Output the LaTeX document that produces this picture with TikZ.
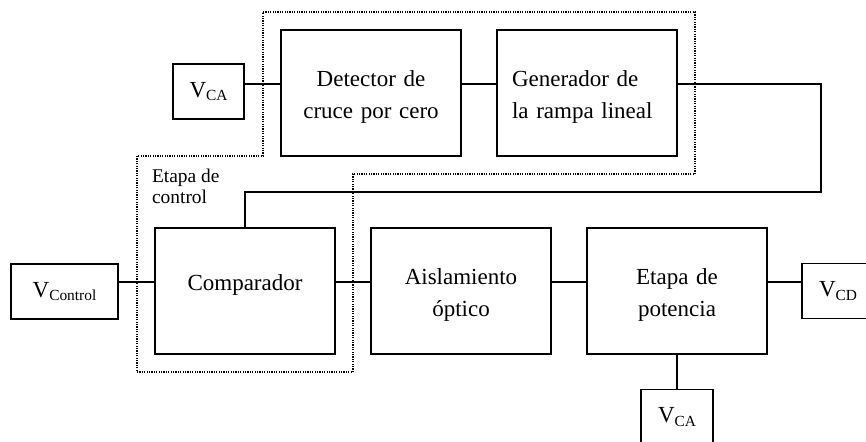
\documentclass[tikz,border=0pt]{standalone}
\usepackage{fontspec}
\setmainfont{Liberation Serif}
\newcommand{\vsub}[1]{V\raisebox{-1.7pt}{\fontsize{7.7}{8}\selectfont #1}}
\begin{document}
\begin{tikzpicture}[x=0.5pt,y=-0.5pt,line width=0.6pt,
blk/.style={draw,minimum width=90pt,minimum height=63pt,inner sep=2pt,font=\fontsize{11.5}{16}\selectfont,align=center,text width=80pt,text height=9pt,text depth=16pt},
src/.style={draw,minimum height=27.5pt,inner sep=0pt,font=\fontsize{11.5}{14}\selectfont},
region/.style={line width=0.6pt,dash pattern=on 0.6pt off 0.6pt}]
\useasboundingbox (0,0) rectangle (866,441);
\draw[region] (263,12) -- (695,12) -- (695,174) -- (353,174) -- (353,372) -- (137,372) -- (137,156) -- (263,156) -- cycle;
\node[anchor=north west,inner sep=0pt,align=left,font=\fontsize{9.7}{10.8}\selectfont] (lblctl) at (151.5,168) {Etapa de\\control};
\node[src,minimum width=35.5pt] (vca1) at (208.5,91.5) {\vsub{CA}};
\node[blk] (det) at (371,93) {Detector de\\cruce por cero};
\node[blk,align=left,text width=75pt] (gen) at (587,93) {Generador de\\la rampa lineal};
\node[src,minimum width=53.5pt] (vctl) at (64.5,291.5) {\vsub{Control}};
\node[blk,text height=9pt,text depth=10pt] (comp) at (245,291) {Comparador};
\node[blk] (ais) at (461,291) {Aislamiento\\óptico};
\node[blk] (pot) at (677,291) {Etapa de\\potencia};
\node[src,minimum width=36pt] (vcd) at (838,291) {\vsub{CD}};
\node[src,minimum width=36pt] (vca2) at (677,417) {\vsub{CA}};
\coordinate (rowA) at (0,84);\coordinate (rowB) at (0,282);
\coordinate (fb) at (821,192);
\draw (vca1.east |- rowA)--(det.west |- rowA);\draw (det.east |- rowA)--(gen.west |- rowA);
\draw (gen.east |- rowA) -| (fb) -| (comp.north);
\draw (vctl.east |- rowB)--(comp.west |- rowB);\draw (comp.east |- rowB)--(ais.west |- rowB);
\draw (ais.east |- rowB)--(pot.west |- rowB);\draw (pot.east |- rowB)--(vcd.west |- rowB);
\draw (pot.south)--(vca2.north);
\end{tikzpicture}
\end{document}
